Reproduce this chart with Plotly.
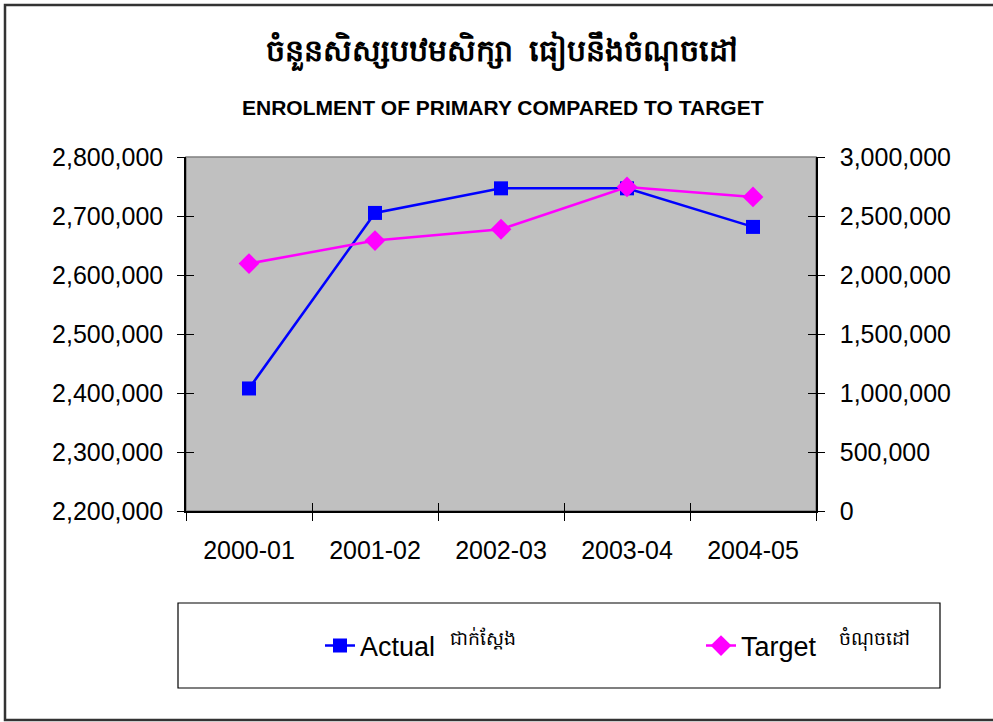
import plotly.graph_objects as go

categories = ["2000-01", "2001-02", "2002-03", "2003-04", "2004-05"]
actual = [2407700, 2705200, 2746900, 2746900, 2681500]
target = [2097000, 2291600, 2387600, 2746000, 2661300]
left_ticks = [2200000, 2300000, 2400000, 2500000, 2600000, 2700000, 2800000]
right_ticks = [0, 500000, 1000000, 1500000, 2000000, 2500000, 3000000]

title_km = "ចំនួនសិស្សបឋមសិក្សា  ធៀបនឹងចំណុចដៅ"
subtitle = "ENROLMENT OF PRIMARY COMPARED TO TARGET"
actual_name = "Actual  <sup>ជាក់ស្តែង</sup>"
target_name = "Target   <sup>ចំណុចដៅ</sup>"

W, H = 993, 722
L, R, T, B = 186, 816, 157, 511

def px(x):
    return (x - L) / (R - L)

def py(y):
    return (B - y) / (B - T)

legend_font = dict(family="Liberation Sans Narrow, Arial Narrow, Liberation Sans, sans-serif",
                   size=27, color="#000000")

fig = go.Figure()
fig.add_trace(go.Scatter(
    x=categories, y=actual, name=actual_name, mode="lines+markers",
    line=dict(color="#0000FF", width=2.5),
    marker=dict(symbol="square", size=14, color="#0000FF"),
    yaxis="y", legend="legend"))
fig.add_trace(go.Scatter(
    x=categories, y=target, name=target_name, mode="lines+markers",
    line=dict(color="#FF00FF", width=2.5),
    marker=dict(symbol="diamond", size=16, color="#FF00FF"),
    yaxis="y2", legend="legend2"))
# empty traces to host inner-tick overlay axes
fig.add_trace(go.Scatter(x=[], y=[], xaxis="x2", yaxis="y3", showlegend=False, hoverinfo="skip"))
fig.add_trace(go.Scatter(x=[], y=[], xaxis="x2", yaxis="y4", showlegend=False, hoverinfo="skip"))

axis_font = dict(family="Liberation Sans, Arial, sans-serif", size=25, color="#000000")

fig.update_layout(
    width=W, height=H,
    margin=dict(l=L, r=W - R, t=T, b=H - B),
    paper_bgcolor="#FFFFFF",
    plot_bgcolor="#C0C0C0",
    showlegend=True,
    xaxis=dict(
        type="category", categoryorder="array", categoryarray=categories,
        range=[-0.5, 4.5], tickson="boundaries",
        ticks="outside", ticklen=8, tickcolor="#000000", tickwidth=1,
        showline=True, linecolor="#000000", linewidth=1.5,
        showgrid=False, zeroline=False,
        tickfont=dict(family="Liberation Sans, Arial, sans-serif", size=25, color="#000000"),
        ticklabelstandoff=16,
    ),
    xaxis2=dict(
        overlaying="x", anchor="y", range=[-0.5, 4.5],
        tickmode="array", tickvals=[-0.5, 0.5, 1.5, 2.5, 3.5, 4.5],
        ticks="inside", ticklen=8, tickcolor="#000000",
        showticklabels=False, showline=False, showgrid=False, zeroline=False,
    ),
    yaxis=dict(
        range=[2200000, 2800000], tickmode="array", tickvals=left_ticks,
        tickformat=",d", ticks="outside", ticklen=7, tickcolor="#000000",
        showline=True, linecolor="#000000", linewidth=1.5,
        showgrid=False, zeroline=False, tickfont=axis_font,
        ticklabelstandoff=9,
    ),
    yaxis2=dict(
        overlaying="y", side="right", anchor="x",
        range=[0, 3000000], tickmode="array", tickvals=right_ticks,
        tickformat=",d", ticks="outside", ticklen=7, tickcolor="#000000",
        showline=True, linecolor="#000000", linewidth=1.5,
        showgrid=False, zeroline=False, tickfont=axis_font,
        ticklabelstandoff=10,
    ),
    yaxis3=dict(
        overlaying="y", side="left", anchor="x2",
        range=[2200000, 2800000], tickmode="array", tickvals=left_ticks,
        ticks="inside", ticklen=8, tickcolor="#000000",
        showticklabels=False, showline=False, showgrid=False, zeroline=False,
    ),
    yaxis4=dict(
        overlaying="y", side="right", anchor="x2",
        range=[0, 3000000], tickmode="array", tickvals=right_ticks,
        ticks="inside", ticklen=8, tickcolor="#000000",
        showticklabels=False, showline=False, showgrid=False, zeroline=False,
    ),
    legend=dict(
        x=px(320), xanchor="left", y=py(646), yanchor="middle",
        bgcolor="rgba(0,0,0,0)", borderwidth=0, font=legend_font,
    ),
    legend2=dict(
        x=px(701), xanchor="left", y=py(646), yanchor="middle",
        bgcolor="rgba(0,0,0,0)", borderwidth=0, font=legend_font,
    ),
    shapes=[
        # outer chart border
        dict(type="rect", xref="paper", yref="paper",
             x0=px(5), x1=px(1200), y0=py(720), y1=py(5),
             line=dict(color="#333333", width=2.5), fillcolor="rgba(0,0,0,0)", layer="below"),
        # plot area border
        dict(type="rect", xref="paper", yref="paper",
             x0=0, x1=1, y0=0, y1=1,
             line=dict(color="#808080", width=1.5), fillcolor="rgba(0,0,0,0)", layer="below"),
        # legend box
        dict(type="rect", xref="paper", yref="paper",
             x0=px(178), x1=px(940), y0=py(688), y1=py(603),
             line=dict(color="#000000", width=1.2), fillcolor="#FFFFFF", layer="below"),
    ],
    annotations=[
        dict(text="<b>" + title_km + "</b>", xref="paper", yref="paper",
             x=px(502), y=py(50), xanchor="center", yanchor="middle", showarrow=False,
             font=dict(family="Noto Sans, Liberation Sans, sans-serif", size=30, color="#000000")),
        dict(text="<b>" + subtitle + "</b>", xref="paper", yref="paper",
             x=px(503), y=py(107), xanchor="center", yanchor="middle", showarrow=False,
             font=dict(family="Liberation Sans, Arial, sans-serif", size=21, color="#000000")),
    ],
)

fig.write_html("out.html", config={"displayModeBar": False},
               post_script="document.body.style.margin='0px';")
